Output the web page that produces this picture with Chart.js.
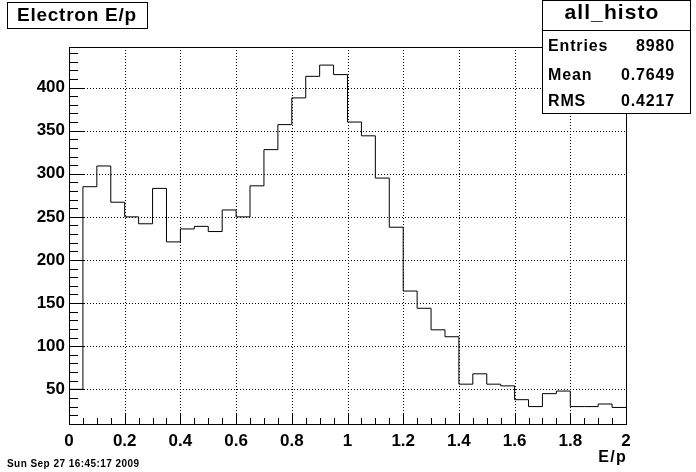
<!DOCTYPE html>
<html>
<head>
<meta charset="utf-8">
<title>Electron E/p</title>
<script src="https://cdn.jsdelivr.net/npm/chart.js@4.4.1/dist/chart.umd.min.js"></script>
<style>
  html, body { margin: 0; padding: 0; background: #fff; }
  #wrap { position: relative; width: 696px; height: 472px; }
</style>
</head>
<body>
<div id="wrap"><canvas id="histo" width="696" height="472"></canvas></div>
<script>
// bin edges of the E/p histogram (40 bins from 0 to 2)
const binEdges = [0, 0.05, 0.1, 0.15, 0.2, 0.25, 0.3, 0.35, 0.4, 0.45,
    0.5, 0.55, 0.6, 0.65, 0.7, 0.75, 0.8, 0.85, 0.9, 0.95,
    1, 1.05, 1.1, 1.15, 1.2, 1.25, 1.3, 1.35, 1.4, 1.45,
    1.5, 1.55, 1.6, 1.65, 1.7, 1.75, 1.8, 1.85, 1.9, 1.95, 2];
// entries per bin
const binCounts = [50, 285, 309, 267, 250, 242, 283, 221, 236, 239,
    233, 258, 250, 286, 328, 357, 388, 413, 426, 415,
    360, 344, 295, 238, 164, 144, 119, 111, 56, 68,
    56, 54, 38, 30, 45, 48, 30, 30, 33, 29];
const xMajorTicks = [0, 0.2, 0.4, 0.6, 0.8, 1, 1.2, 1.4, 1.6, 1.8, 2];
const yMajorTicks = [50, 100, 150, 200, 250, 300, 350, 400];
const xMinorStep = 0.05;
const yMinorStep = 10;
const yRange = [9.8, 447];

const titleText = 'Electron E/p';
const statsName = 'all_histo';
const statsRows = [['Entries', '8980'], ['Mean', '0.7649'], ['RMS', '0.4217']];
const xAxisTitle = 'E/p';
const dateText = 'Sun Sep 27 16:45:17 2009';

const FONT = '"Liberation Sans", Arial, Helvetica, sans-serif';

// histogram outline: one point per left bin edge, plus the closing edge
const stepPoints = binEdges.map((edge, i) => ({
    x: edge,
    y: binCounts[Math.min(i, binCounts.length - 1)]
}));

const rootStyle = {
    id: 'rootStyle',
    beforeDatasetsDraw(chart) {
        const { ctx, chartArea: a, scales: { x, y } } = chart;
        ctx.save();
        ctx.strokeStyle = '#000';
        ctx.lineWidth = 1;
        ctx.setLineDash([1, 2]);
        ctx.beginPath();
        xMajorTicks.forEach(v => {
            const px = Math.round(x.getPixelForValue(v)) + 0.5;
            ctx.moveTo(px, a.top);
            ctx.lineTo(px, a.bottom);
        });
        yMajorTicks.forEach(v => {
            const py = Math.round(y.getPixelForValue(v)) + 0.5;
            ctx.moveTo(a.left, py);
            ctx.lineTo(a.right, py);
        });
        ctx.stroke();
        ctx.restore();
    },
    afterDatasetsDraw(chart) {
        const { ctx, chartArea: a, scales: { x, y } } = chart;
        ctx.save();
        ctx.strokeStyle = '#000';
        ctx.lineWidth = 1;
        ctx.strokeRect(a.left + 0.5, a.top + 0.5, a.right - a.left, a.bottom - a.top);
        ctx.beginPath();
        // x ticks, pointing up into the frame
        for (let k = 0; k * xMinorStep <= x.max + 1e-9; k++) {
            const v = k * xMinorStep;
            const major = k % 4 === 0;
            const px = Math.round(x.getPixelForValue(v)) + 0.5;
            ctx.moveTo(px, a.bottom);
            ctx.lineTo(px, a.bottom - (major ? 11 : 6));
        }
        // y ticks, pointing right into the frame
        for (let v = yMinorStep; v <= y.max; v += yMinorStep) {
            if (v < y.min) continue;
            const major = v % 50 === 0;
            const py = Math.round(y.getPixelForValue(v)) + 0.5;
            ctx.moveTo(a.left, py);
            ctx.lineTo(a.left + (major ? 16 : 9), py);
        }
        ctx.stroke();
        ctx.restore();
    },
    afterDraw(chart) {
        const ctx = chart.ctx;
        ctx.save();
        ctx.fillStyle = '#fff';
        ctx.strokeStyle = '#000';
        ctx.lineWidth = 1;

        // title box
        ctx.fillRect(7, 2, 141, 27);
        ctx.strokeRect(7.5, 2.5, 140, 26);
        ctx.fillStyle = '#000';
        ctx.font = 'bold 19px ' + FONT;
        ctx.letterSpacing = '0.75px';
        ctx.textAlign = 'left';
        ctx.textBaseline = 'alphabetic';
        ctx.fillText(titleText, 17, 21);

        // stats box
        ctx.fillStyle = '#fff';
        ctx.fillRect(542, 0, 149, 113);
        ctx.strokeRect(542.5, 0.5, 148, 113);
        ctx.beginPath();
        ctx.moveTo(542, 30.5);
        ctx.lineTo(691, 30.5);
        ctx.stroke();
        ctx.fillStyle = '#000';
        ctx.font = 'bold 21px ' + FONT;
        ctx.letterSpacing = '1.1px';
        ctx.textAlign = 'center';
        ctx.fillText(statsName, 612, 19);
        ctx.font = 'bold 16px ' + FONT;
        ctx.letterSpacing = '0.85px';
        const rowBase = [51, 80, 106];
        statsRows.forEach((row, i) => {
            ctx.textAlign = 'left';
            ctx.fillText(row[0], 548, rowBase[i]);
            ctx.textAlign = 'right';
            ctx.fillText(row[1], 675, rowBase[i]);
        });

        // axis title and date stamp
        ctx.font = 'bold 16px ' + FONT;
        ctx.letterSpacing = '1.3px';
        ctx.textAlign = 'right';
        ctx.fillText(xAxisTitle, 627, 462);
        ctx.font = 'bold 10px ' + FONT;
        ctx.letterSpacing = '0.45px';
        ctx.textAlign = 'left';
        ctx.fillText(dateText, 7, 467);
        ctx.restore();
    }
};

new Chart(document.getElementById('histo'), {
    type: 'line',
    data: {
        datasets: [{
            label: 'all_histo',
            data: stepPoints,
            stepped: true,
            borderColor: '#000',
            borderWidth: 1,
            pointRadius: 0,
            fill: false
        }]
    },
    options: {
        responsive: false,
        animation: false,
        devicePixelRatio: 1,
        events: [],
        layout: { padding: { left: 0, top: 47, right: 70, bottom: 0 } },
        plugins: { legend: { display: false }, tooltip: { enabled: false } },
        scales: {
            x: {
                type: 'linear',
                min: 0,
                max: 2,
                afterBuildTicks: scale => {
                    scale.ticks = xMajorTicks.map(v => ({ value: v }));
                },
                afterFit: scale => { scale.height = 48; },
                grid: { display: false, drawTicks: false },
                border: { display: false },
                ticks: {
                    autoSkip: false,
                    maxRotation: 0,
                    padding: 7,
                    color: '#000',
                    font: { family: FONT, size: 17, weight: 'bold' },
                    callback: v => String(Number(v.toFixed(1)))
                }
            },
            y: {
                type: 'linear',
                min: yRange[0],
                max: yRange[1],
                afterBuildTicks: scale => {
                    scale.ticks = yMajorTicks.map(v => ({ value: v }));
                },
                afterFit: scale => { scale.width = 69; },
                grid: { display: false, drawTicks: false },
                border: { display: false },
                ticks: {
                    padding: 4,
                    color: '#000',
                    font: { family: FONT, size: 17, weight: 'bold' },
                    callback: v => String(v)
                }
            }
        }
    },
    plugins: [rootStyle]
});
</script>
</body>
</html>
